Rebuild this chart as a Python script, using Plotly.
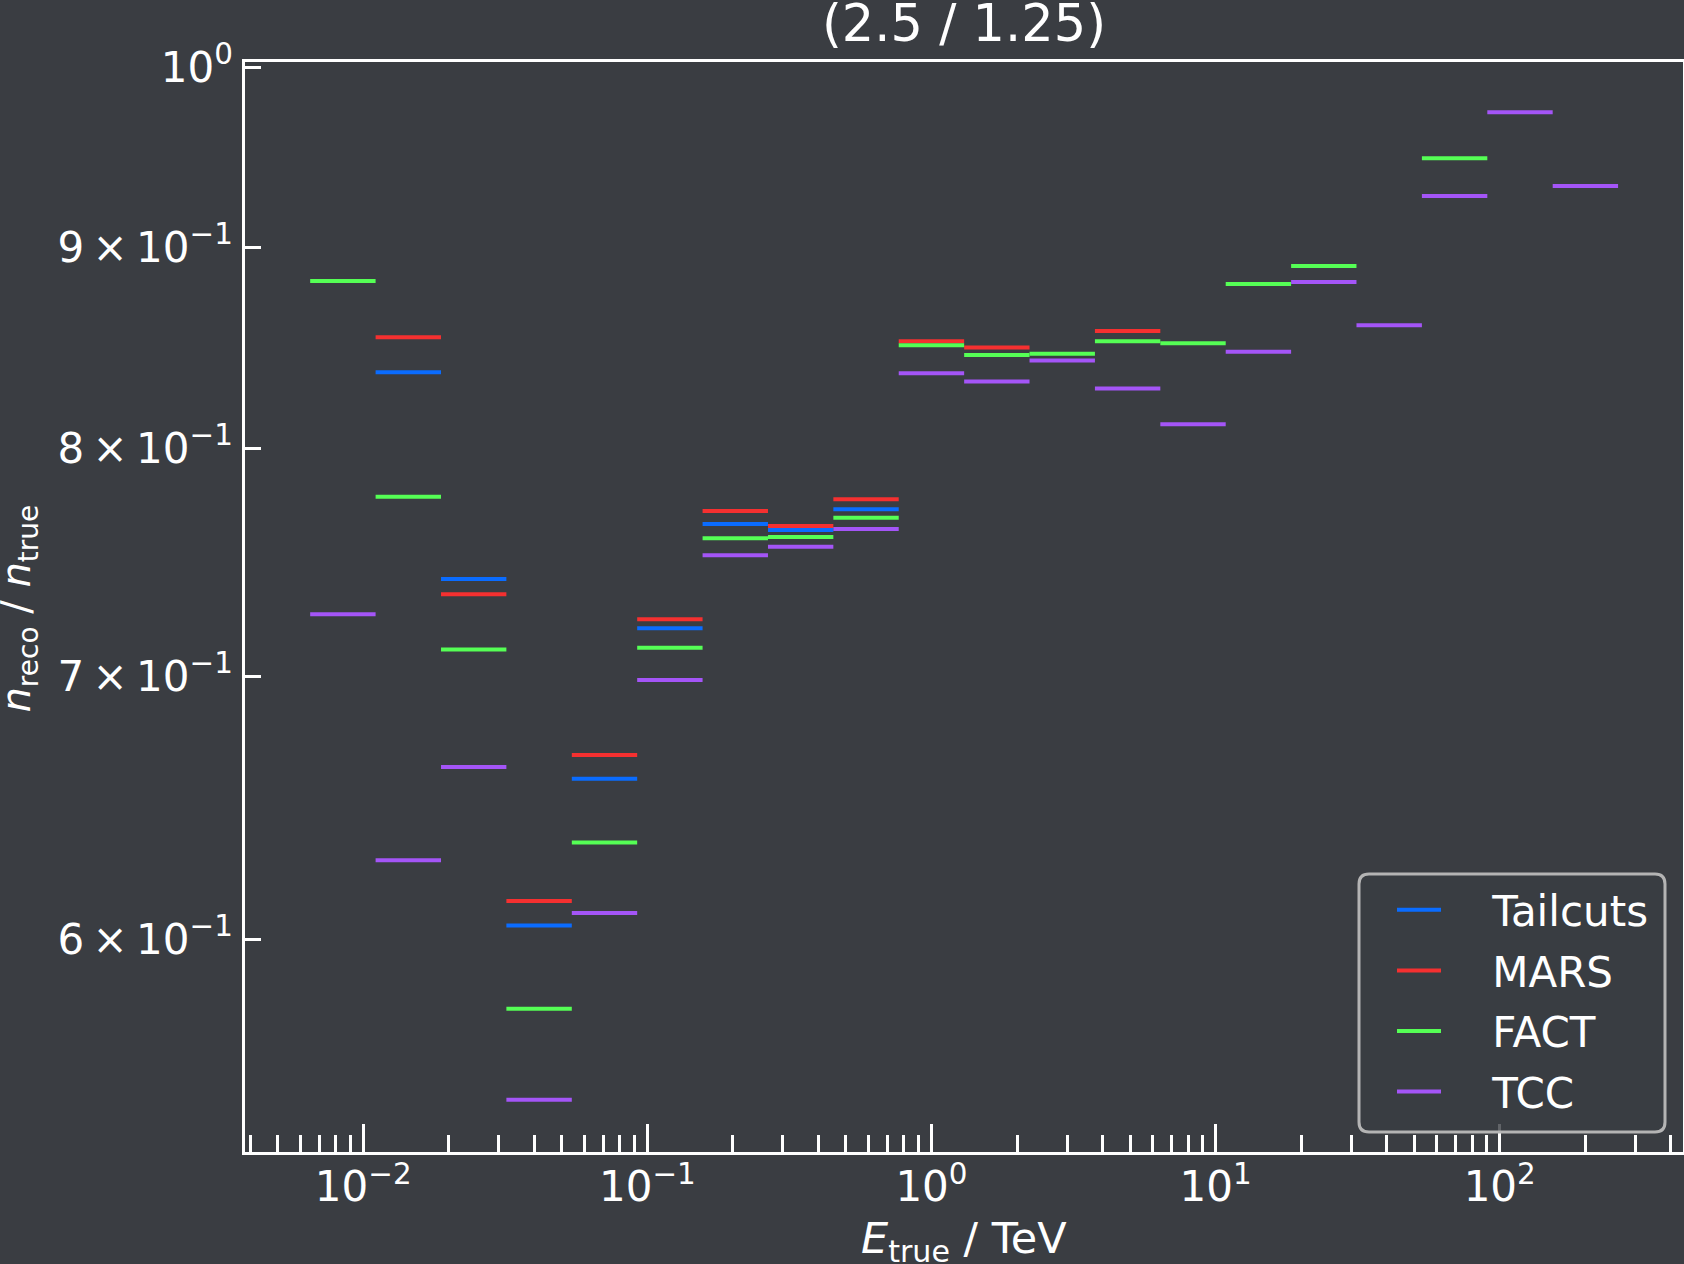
import plotly.graph_objects as go

# bin edges in TeV
edges = [0.006507, 0.011057, 0.018786, 0.03191, 0.054225, 0.09210, 0.15647, 0.26583,
         0.45153, 0.7670, 1.3032, 2.2138, 3.7611, 6.3896, 10.854, 18.44, 31.32, 53.22,
         90.42, 153.6, 260.9]

tailcuts = [None, 0.8363, 0.7409, 0.6048, 0.6591, 0.7199, 0.7652, 0.7625, 0.7719,
            None, None, None, None, None, None, None, None, None, None, None]
mars = [None, 0.8537, 0.7344, 0.6136, 0.6684, 0.7237, 0.7710, 0.7643, 0.7764,
        0.8517, 0.8485, None, 0.8568, None, None, None, None, None, None, None]
fact = [0.8823, 0.7775, 0.7110, 0.5760, 0.6350, 0.7117, 0.7588, 0.7594, 0.7680,
        0.8497, 0.8449, 0.8455, 0.8517, 0.8507, 0.8807, 0.8901, None, 0.9481, None, None]
tcc = [0.7258, 0.6284, 0.6637, 0.5461, 0.6093, 0.6984, 0.7513, 0.7551, 0.7630,
       0.8359, 0.8318, 0.8421, 0.8284, 0.8113, 0.8464, 0.8818, 0.8597, 0.9273, 0.9740, 0.9328]

names = ["Tailcuts", "MARS", "FACT", "TCC"]
colors = ["#0a6cff", "#f53030", "#55ff55", "#a455f7"]
values = [tailcuts, mars, fact, tcc]

TS = "\u2009"  # thin space, as in the math-text tick labels
ytickvals = [0.6, 0.7, 0.8, 0.9, 1.0]
yticktext = [f"6{TS}×{TS}10<sup>−1</sup>", f"7{TS}×{TS}10<sup>−1</sup>",
             f"8{TS}×{TS}10<sup>−1</sup>", f"9{TS}×{TS}10<sup>−1</sup>", "10<sup>0</sup>"]
xtickvals = [0.01, 0.1, 1, 10, 100]
xticktext = ["10<sup>−2</sup>", "10<sup>−1</sup>", "10<sup>0</sup>", "10<sup>1</sup>", "10<sup>2</sup>"]

BG = "#3a3d42"
FONT = "DejaVu Sans"
LEG_PAD = "\u2002\u2002\u200a"  # gap between legend handle and label

fig = go.Figure()
for name, vals, color in zip(names, values, colors):
    xs, ys = [], []
    for i, v in enumerate(vals):
        if v is None:
            continue
        xs += [edges[i], edges[i + 1], None]
        ys += [v, v, None]
    fig.add_trace(go.Scatter(x=xs, y=ys, mode="lines", name=LEG_PAD + name,
                             legendgroup=name,
                             line=dict(color=color, width=4), connectgaps=False))

W, H = 1684, 1264
L, R, T, B = 245, 1, 62, 112
pw, ph = W - L - R, H - T - B

def px(x):
    return (x - L) / pw

def py(y):
    return (H - B - y) / ph

# rounded legend frame
x0, x1 = px(1359), px(1665)
y0, y1 = py(1132), py(874)
rx, ry = 10 / pw, 10 / ph
path = (f"M{x0+rx},{y0} L{x1-rx},{y0} Q{x1},{y0} {x1},{y0+ry} L{x1},{y1-ry} "
        f"Q{x1},{y1} {x1-rx},{y1} L{x0+rx},{y1} Q{x0},{y1} {x0},{y1-ry} "
        f"L{x0},{y0+ry} Q{x0},{y0} {x0+rx},{y0} Z")

yrange = [-0.2760, 0.00132]

fig.update_layout(
    width=W, height=H,
    margin=dict(l=L, r=R, t=T, b=B, autoexpand=False),
    paper_bgcolor=BG, plot_bgcolor=BG,
    font=dict(family=FONT, color="white", size=42),
    title=dict(text="(2.5 / 1.25)", x=px(964), xref="paper", xanchor="center",
               y=0.996, yref="container", yanchor="top", pad=dict(t=0, b=0),
               font=dict(size=51, family=FONT, color="white")),
    showlegend=True,
    legend=dict(x=px(1392), y=py(876), xanchor="left", yanchor="top",
                bgcolor="rgba(0,0,0,0)", borderwidth=0,
                font=dict(size=42, family=FONT, color="white"),
                itemwidth=44, tracegroupgap=3),
    shapes=[dict(type="path", path=path, xref="paper", yref="paper",
                 line=dict(color="#b4b4b4", width=3),
                 fillcolor="rgba(58,61,66,0.8)", layer="above")],
    annotations=[
        dict(text="<i>n</i><sub>reco</sub> / <i>n</i><sub>true</sub>",
             xref="paper", yref="paper", x=px(18), y=py(608.5),
             xanchor="center", yanchor="middle", textangle=-90,
             showarrow=False, font=dict(size=40, family=FONT, color="white")),
        dict(text="<i>E</i><sub>true</sub> / TeV",
             xref="paper", yref="paper", x=px(964), y=py(1211),
             xanchor="center", yanchor="top",
             showarrow=False, font=dict(size=43, family=FONT, color="white")),
    ],
    xaxis=dict(type="log", range=[-2.416, 2.645], showgrid=False, zeroline=False,
               showline=True, linecolor="white", linewidth=2.5, mirror=True,
               tickvals=xtickvals, ticktext=xticktext, ticks="inside", ticklen=28,
               tickwidth=2.5, tickcolor="white",
               tickfont=dict(size=42, family=FONT, color="white"),
               ticklabelstandoff=-4,
               minor=dict(ticks="inside", ticklen=17, tickwidth=2.5, tickcolor="white",
                          dtick="D1", showgrid=False)),
    yaxis=dict(type="log", range=yrange, showgrid=False, zeroline=False,
               showline=True, linecolor="white", linewidth=2.5, mirror=True,
               tickvals=ytickvals, ticktext=yticktext, ticks="inside", ticklen=16,
               tickwidth=2.5, tickcolor="white",
               tickfont=dict(size=42, family=FONT, color="white"),
               ticklabelstandoff=1),
    yaxis2=dict(type="log", range=yrange, overlaying="y", side="left",
                showgrid=False, zeroline=False, showline=False,
                tickvals=[1.0], ticks="inside", ticklen=27, tickwidth=2.5,
                tickcolor="white", showticklabels=False),
)

fig.write_html("out.html")
